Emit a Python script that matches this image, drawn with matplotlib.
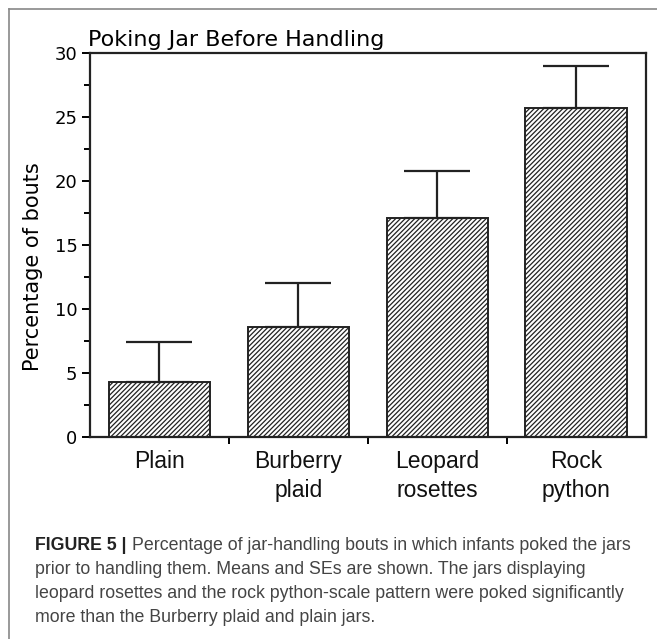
import matplotlib
matplotlib.use('Agg')
import matplotlib.pyplot as plt
from matplotlib.lines import Line2D
from matplotlib.ticker import MultipleLocator, FixedLocator

categories = ['Plain', 'Burberry\nplaid', 'Leopard\nrosettes', 'Rock\npython']
means = [4.3, 8.6, 17.1, 25.7]
se = [3.15, 3.4, 3.65, 3.25]

title = 'Poking Jar Before Handling'
ylabel = 'Percentage of bouts'
cap_bold = 'FIGURE 5 |'
cap_lines = ['Percentage of jar-handling bouts in which infants poked the jars',
             'prior to handling them. Means and SEs are shown. The jars displaying',
             'leopard rosettes and the rock python-scale pattern were poked significantly',
             'more than the Burberry plaid and plain jars.']

plt.rcParams['hatch.linewidth'] = 0.9
plt.rcParams['hatch.color'] = '#222222'

fig = plt.figure(figsize=(6.57, 6.39), dpi=100)
ax = fig.add_axes([0.137, 0.316, 0.9825 - 0.137, 0.917 - 0.316])

x = list(range(len(categories)))
ax.bar(x, means, width=0.73, color='white', edgecolor='#222222', linewidth=1.4,
       hatch='///////', zorder=2)
ax.errorbar(x, means, yerr=[[0] * len(se), se], fmt='none', ecolor='#222222',
            elinewidth=1.6, capsize=24, capthick=1.6, zorder=3)

ax.set_xlim(-0.5, 3.5)
ax.set_ylim(0, 30)
ax.yaxis.set_major_locator(MultipleLocator(5))
ax.yaxis.set_minor_locator(MultipleLocator(2.5))
ax.xaxis.set_major_locator(FixedLocator([0.5, 1.5, 2.5]))
ax.xaxis.set_major_formatter(plt.NullFormatter())
ax.set_xticks(x, minor=True)
ax.set_xticklabels(categories, minor=True, fontsize=16.5, fontfamily='Liberation Sans',
                   linespacing=1.35, color='#111111')
ax.tick_params(axis='x', which='minor', length=0, pad=9)
ax.tick_params(axis='x', which='major', length=5, width=1.4, direction='out')
ax.tick_params(axis='y', which='major', length=6, width=1.4, labelsize=13, pad=3)
ax.tick_params(axis='y', which='minor', length=4, width=1.4)
for s in ax.spines.values():
    s.set_linewidth(1.6)
    s.set_color('#222222')

ax.set_ylabel(ylabel, fontsize=15)
ax.yaxis.set_label_coords(-0.085, 0.445)
ax.text(-0.003, 1.008, title, transform=ax.transAxes, fontsize=16, ha='left', va='bottom')

# outer frame (top and left)
fig.add_artist(Line2D([9 / 657, 1], [1 - 9 / 639, 1 - 9 / 639], transform=fig.transFigure,
                      color='#888888', linewidth=1.2))
fig.add_artist(Line2D([9 / 657, 9 / 657], [0, 1 - 9 / 639], transform=fig.transFigure,
                      color='#888888', linewidth=1.2))

# caption
cap_font = 'Liberation Sans'
x0 = 35 / 657
ys = [545, 569, 593, 617]
fig.canvas.draw()
r = fig.canvas.get_renderer()
tb = fig.text(x0, 1 - ys[0] / 639, cap_bold, fontsize=12.8, fontweight='bold',
              family=cap_font, color='#222222', va='center')
bb = tb.get_window_extent(renderer=r)
fig.text(bb.x1 / 657 + 0.009, 1 - ys[0] / 639, cap_lines[0], fontsize=12.8, family=cap_font,
         color='#444444', va='center')
for yy, line in zip(ys[1:], cap_lines[1:]):
    fig.text(x0, 1 - yy / 639, line, fontsize=12.8, family=cap_font, color='#444444', va='center')

fig.savefig('out.png', dpi=100)
